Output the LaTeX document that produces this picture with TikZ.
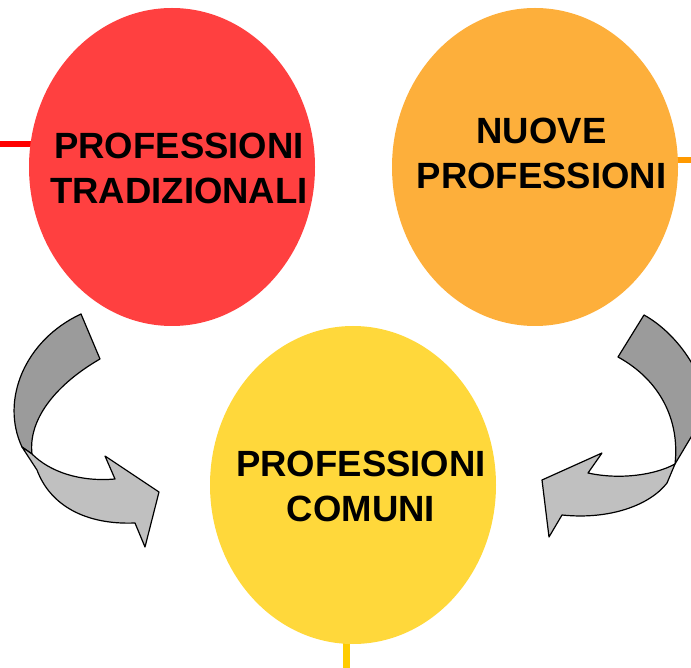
\documentclass[tikz,border=0pt]{standalone}
\usepackage{fontspec}
\setmainfont{Liberation Sans}
\usetikzlibrary{shapes.geometric,backgrounds}
\definecolor{tradred}{RGB}{255,64,64}
\definecolor{nuoveorange}{RGB}{253,175,59}
\definecolor{comuniyellow}{RGB}{255,216,59}
\definecolor{tradline}{RGB}{255,0,0}
\definecolor{nuoveline}{RGB}{255,153,0}
\definecolor{comuniline}{RGB}{255,204,0}
\definecolor{backgray}{RGB}{155,155,155}
\definecolor{frontgray}{RGB}{192,192,192}
\begin{document}
\begin{tikzpicture}[x=1pt,y=-1pt,
  bubble/.style={ellipse,minimum width=286pt,minimum height=318pt,inner sep=0pt},
  bubbletext/.style={align=center,font=\bfseries\fontsize{36.5}{45}\selectfont},
  stub/.style={line width=6.5pt},
  bentarrow/.style={draw=black,line width=1.2pt,line join=round}]
\useasboundingbox (0,0) rectangle (691,668);
\clip (0,0) rectangle (691,668);
\foreach \name/\x/\y/\col in {trad/172/167/tradred,nuove/535/167/nuoveorange,comuni/353/485/comuniyellow}
{
    \node[bubble,fill=\col] (\name) at (\x,\y) {};
}
\node[bubbletext] (tradtxt) at ([xshift=7pt,yshift=-1.5pt]trad.center) {PROFESSIONI\\TRADIZIONALI};
\node[bubbletext] (nuovetxt) at ([xshift=6.5pt,yshift=14pt]nuove.center) {NUOVE\\PROFESSIONI};
\node[bubbletext] (comunitxt) at ([xshift=8pt,yshift=-1.7pt]comuni.center) {PROFESSIONI\\COMUNI};

\coordinate (tradend) at (0,144);
\coordinate (nuoveend) at (691,160);
\coordinate (comuniend) at (346.5,668);
\begin{pgfonlayer}{background}
\draw[stub,tradline](tradend)--(tradend -| trad.center);
\draw[stub,nuoveline](nuoveend)--(nuoveend -| nuove.center);
\draw[stub,comuniline](comuniend)--(comuniend |- comuni.center);
\end{pgfonlayer}

\draw[bentarrow,fill=backgray](81,314)..controls(25,340)and(0,400)..(22,447)--(32,454)
  ..controls(28,420)and(55,385)..(100,359)--cycle;
\draw[bentarrow,fill=frontgray](22,447)--(37,470)..controls(50,505)and(85,525)..(135,523)
  --(145,547)--(159,492)--(105,456)--(115,479)..controls(80,482)and(50,472)..(32,454)--cycle;

\draw[bentarrow,fill=backgray](644,315)..controls(680,335)and(708,380)..(706,412)--(675,464)
  ..controls(680,420)and(660,380)..(618,357)--cycle;
\draw[bentarrow,fill=frontgray](675,464)--(667,483)..controls(650,505)and(610,520)..(562,515)
  --(549,537)--(542,480)--(602,453)--(588,473)..controls(620,480)and(655,475)..(675,464)--cycle;
\end{tikzpicture}
\end{document}
